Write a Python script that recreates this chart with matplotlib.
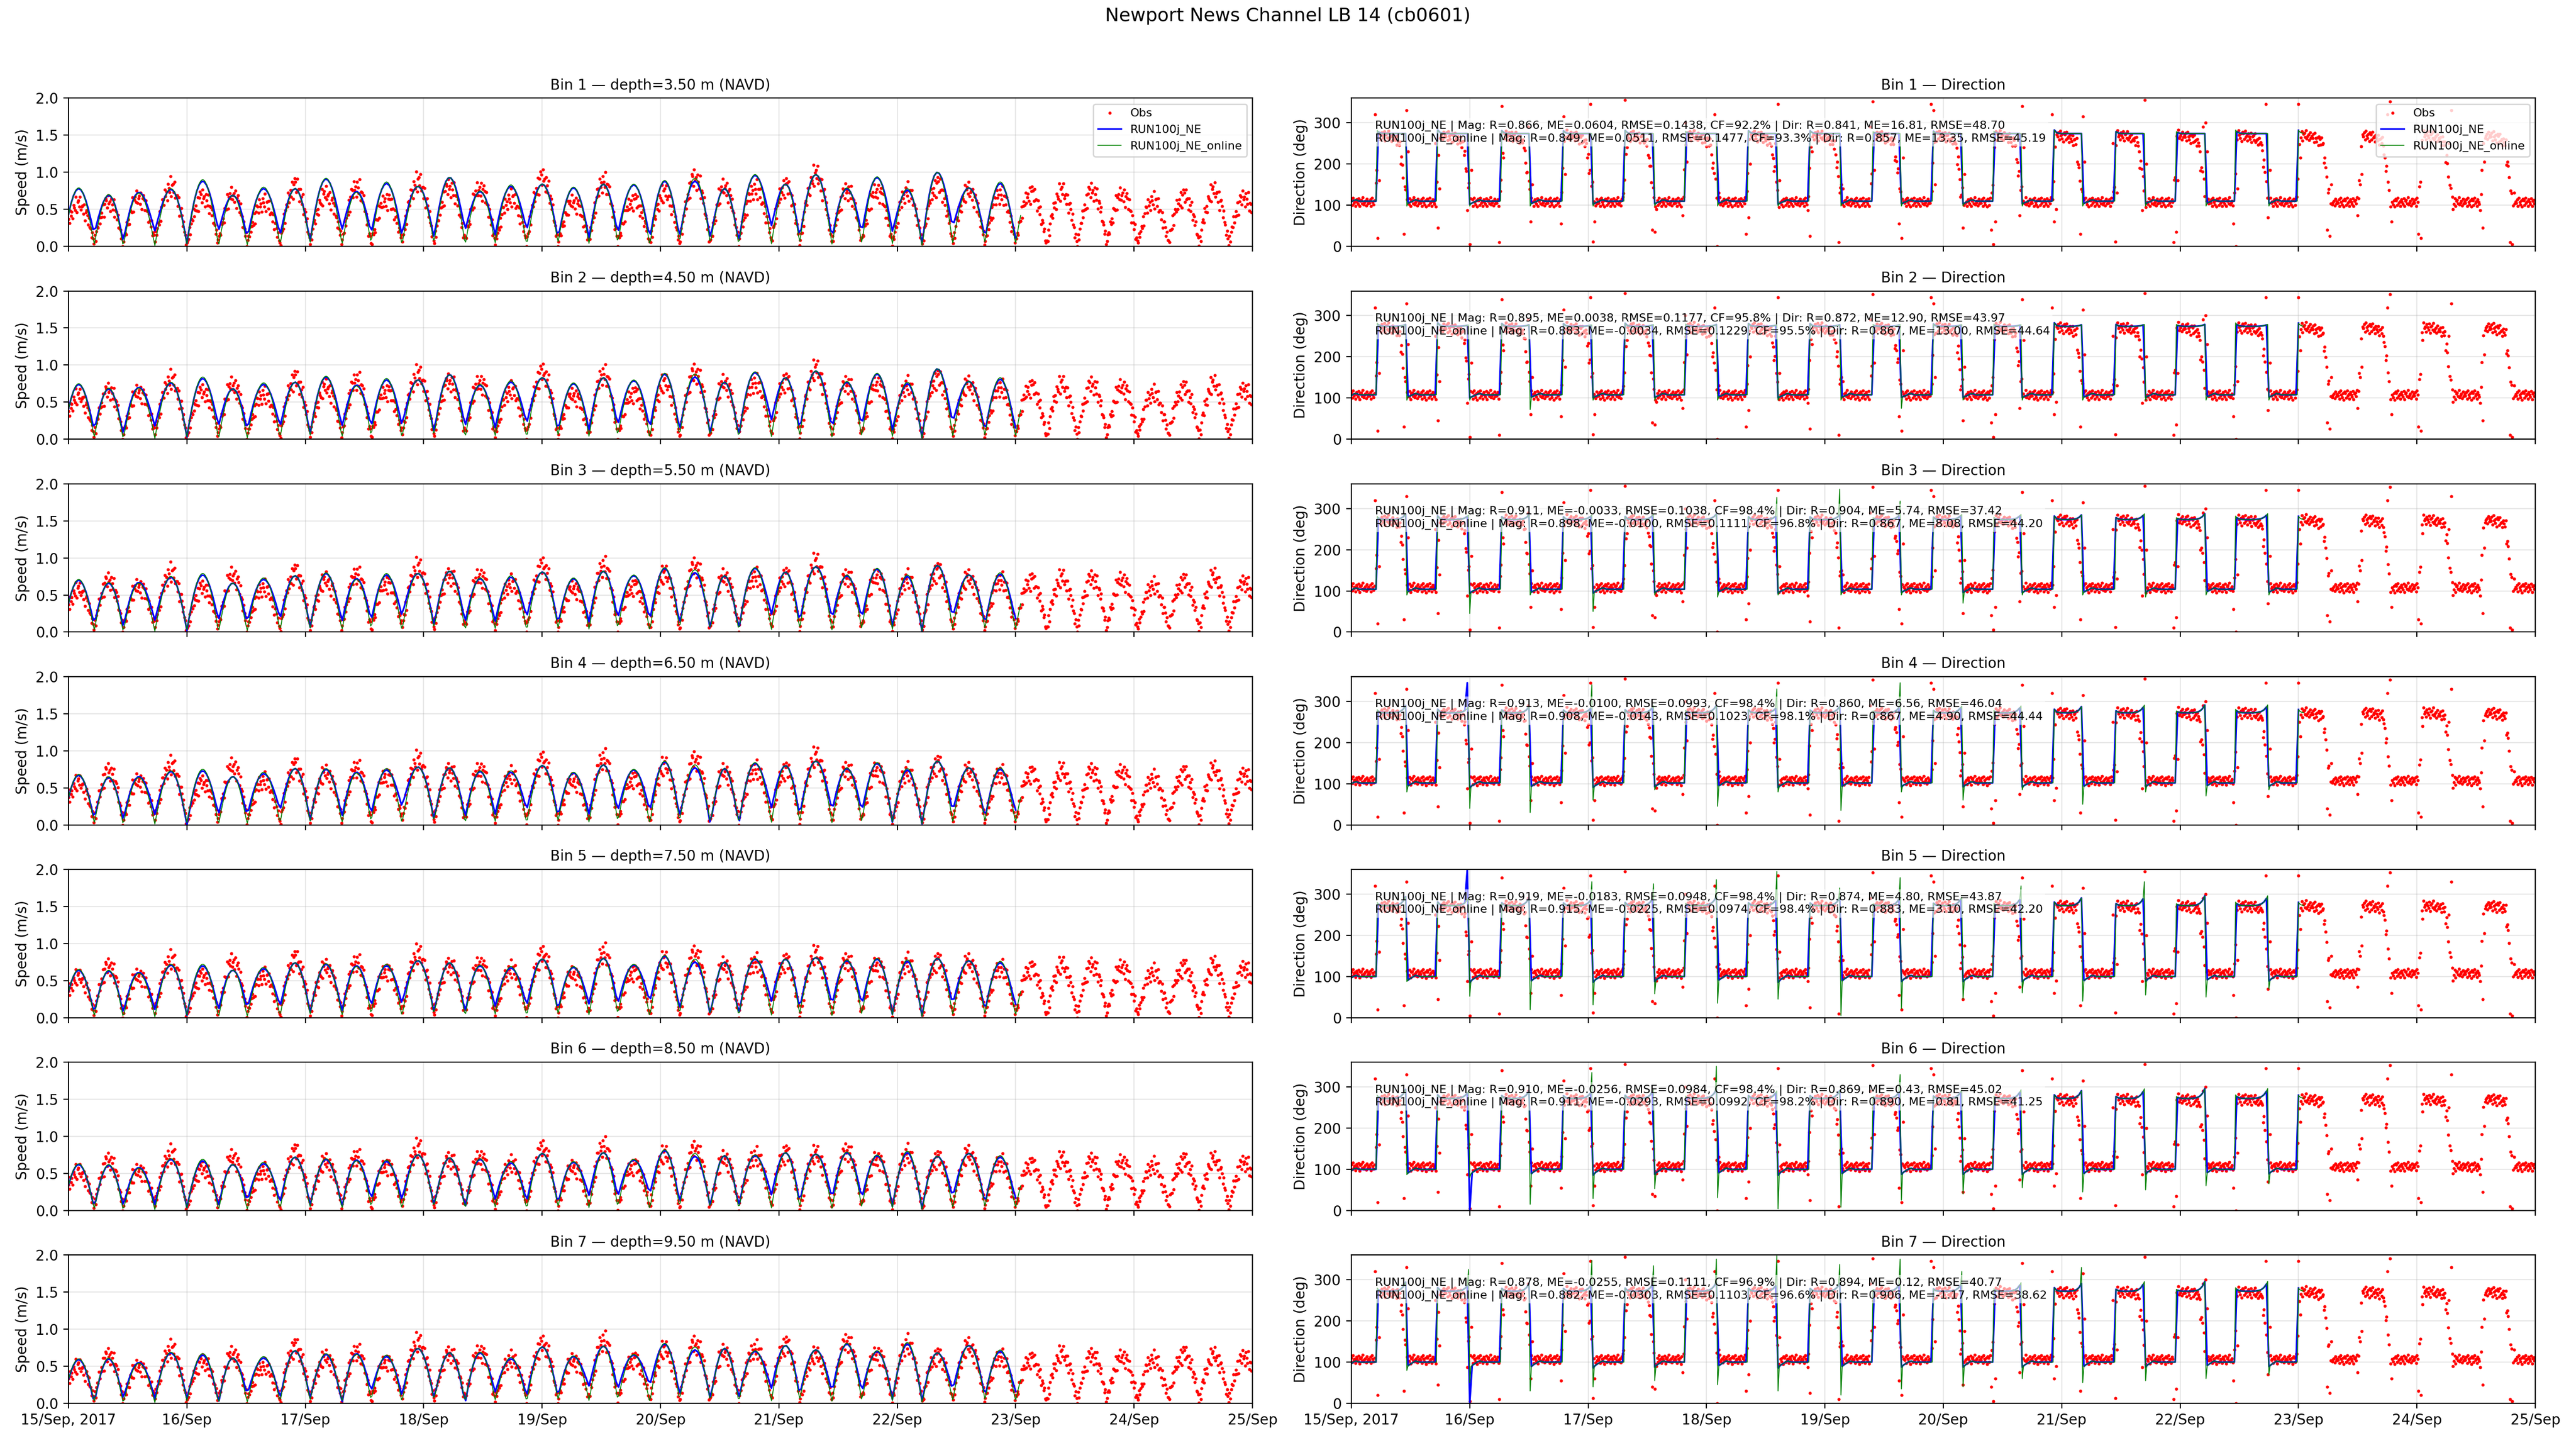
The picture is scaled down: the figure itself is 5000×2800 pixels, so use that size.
import numpy as np
import matplotlib
matplotlib.use("Agg")
import matplotlib.pyplot as plt
import matplotlib.dates as mdates
from datetime import datetime

START = mdates.date2num(datetime(2017, 9, 15))
DEPTHS = [3.5, 4.5, 5.5, 6.5, 7.5, 8.5, 9.5]
DAY_LABELS = ["15/Sep, 2017", "16/Sep", "17/Sep", "18/Sep", "19/Sep", "20/Sep",
              "21/Sep", "22/Sep", "23/Sep", "24/Sep", "25/Sep"]

# skill scores printed on the direction panels
# (mag R, mag ME, mag RMSE, CF %, dir R, dir ME, dir RMSE)
NE_STATS = [
    (0.866, 0.0604, 0.1438, 92.2, 0.841, 16.81, 48.70),
    (0.895, 0.0038, 0.1177, 95.8, 0.872, 12.90, 43.97),
    (0.911, -0.0033, 0.1038, 98.4, 0.904, 5.74, 37.42),
    (0.913, -0.0100, 0.0993, 98.4, 0.860, 6.56, 46.04),
    (0.919, -0.0183, 0.0948, 98.4, 0.874, 4.80, 43.87),
    (0.910, -0.0256, 0.0984, 98.4, 0.869, 0.43, 45.02),
    (0.878, -0.0255, 0.1111, 96.9, 0.894, 0.12, 40.77),
]
ONLINE_STATS = [
    (0.849, 0.0511, 0.1477, 93.3, 0.857, 13.35, 45.19),
    (0.883, -0.0034, 0.1229, 95.5, 0.867, 13.00, 44.64),
    (0.898, -0.0100, 0.1111, 96.8, 0.867, 8.08, 44.20),
    (0.908, -0.0143, 0.1023, 98.1, 0.867, 4.90, 44.44),
    (0.915, -0.0225, 0.0974, 98.4, 0.883, 3.10, 42.20),
    (0.911, -0.0293, 0.0992, 98.2, 0.890, 0.81, 41.25),
    (0.882, -0.0303, 0.1103, 96.6, 0.906, -1.17, 38.62),
]

# slack-water times (days after 15 Sep 00:00); odd index = ebb->flood
SLACK = [-0.045, 0.217, 0.462, 0.729, 1.000, 1.267, 1.509, 1.787, 2.040, 2.310,
         2.556, 2.816, 3.087, 3.350, 3.603, 3.870, 4.134, 4.397, 4.639, 4.910,
         5.161, 5.421, 5.661, 5.937, 6.175, 6.449, 6.700, 6.959, 7.210, 7.468,
         7.741, 7.998, 8.260, 8.520, 8.770, 9.030, 9.290, 9.550, 9.800, 10.060]

# model peak speed per half tide (RUN100j_NE), one row per bin
NE_PEAK = [
    [0.78, 0.69, 0.73, 0.77, 0.88, 0.69, 0.78, 0.78, 0.91, 0.74, 0.85, 0.81, 0.93, 0.74, 0.81, 0.84,
     0.79, 0.84, 0.83, 0.88, 0.88, 0.78, 0.96, 0.84, 0.97, 0.78, 0.93, 0.76, 1.00, 0.79, 0.85, 0.80],
    [0.74, 0.68, 0.70, 0.76, 0.82, 0.68, 0.74, 0.77, 0.84, 0.73, 0.80, 0.80, 0.87, 0.73, 0.77, 0.83,
     0.75, 0.83, 0.79, 0.88, 0.84, 0.77, 0.90, 0.83, 0.92, 0.77, 0.88, 0.75, 0.95, 0.78, 0.81, 0.76],
    [0.70, 0.66, 0.67, 0.74, 0.77, 0.66, 0.71, 0.76, 0.79, 0.72, 0.77, 0.79, 0.82, 0.72, 0.74, 0.81,
     0.72, 0.82, 0.76, 0.86, 0.80, 0.76, 0.86, 0.81, 0.88, 0.76, 0.85, 0.75, 0.90, 0.77, 0.78, 0.73],
    [0.67, 0.64, 0.65, 0.72, 0.73, 0.65, 0.69, 0.76, 0.75, 0.71, 0.74, 0.78, 0.77, 0.72, 0.71, 0.80,
     0.70, 0.81, 0.74, 0.85, 0.77, 0.76, 0.83, 0.80, 0.86, 0.76, 0.83, 0.74, 0.86, 0.77, 0.75, 0.70],
    [0.64, 0.63, 0.61, 0.71, 0.70, 0.64, 0.66, 0.74, 0.72, 0.70, 0.70, 0.77, 0.74, 0.70, 0.67, 0.79,
     0.68, 0.80, 0.71, 0.83, 0.75, 0.75, 0.79, 0.79, 0.81, 0.77, 0.79, 0.76, 0.80, 0.77, 0.74, 0.67],
    [0.62, 0.61, 0.58, 0.69, 0.67, 0.62, 0.63, 0.72, 0.69, 0.68, 0.66, 0.75, 0.71, 0.69, 0.64, 0.77,
     0.65, 0.78, 0.68, 0.81, 0.73, 0.74, 0.74, 0.78, 0.76, 0.78, 0.74, 0.78, 0.73, 0.77, 0.72, 0.63],
    [0.59, 0.60, 0.55, 0.68, 0.65, 0.61, 0.61, 0.71, 0.66, 0.67, 0.63, 0.74, 0.68, 0.68, 0.60, 0.76,
     0.63, 0.77, 0.65, 0.80, 0.72, 0.74, 0.70, 0.78, 0.72, 0.80, 0.70, 0.80, 0.68, 0.78, 0.70, 0.60],
]
# model speed at each slack
NE_TROUGH = [
    [0.05, 0.17, 0.06, 0.21, 0.04, 0.21, 0.11, 0.15, 0.06, 0.22, 0.17, 0.15, 0.11, 0.22, 0.15, 0.22, 0.10,
     0.11, 0.17, 0.10, 0.11, 0.10, 0.04, 0.28, 0.10, 0.10, 0.18, 0.20, 0.02, 0.26, 0.10, 0.10, 0.10],
    [0.05, 0.12, 0.06, 0.18, 0.03, 0.18, 0.12, 0.17, 0.06, 0.17, 0.16, 0.19, 0.09, 0.17, 0.15, 0.21, 0.10,
     0.12, 0.18, 0.14, 0.11, 0.06, 0.03, 0.26, 0.11, 0.14, 0.18, 0.12, 0.01, 0.22, 0.09, 0.14, 0.10],
    [0.05, 0.10, 0.06, 0.16, 0.02, 0.16, 0.12, 0.18, 0.05, 0.14, 0.15, 0.22, 0.08, 0.13, 0.14, 0.20, 0.10,
     0.13, 0.18, 0.16, 0.10, 0.03, 0.02, 0.24, 0.12, 0.17, 0.18, 0.07, 0.00, 0.20, 0.09, 0.17, 0.10],
    [0.05, 0.07, 0.06, 0.14, 0.00, 0.14, 0.12, 0.20, 0.05, 0.11, 0.14, 0.25, 0.06, 0.10, 0.14, 0.20, 0.10,
     0.14, 0.18, 0.18, 0.10, 0.00, 0.00, 0.23, 0.12, 0.19, 0.18, 0.03, 0.00, 0.18, 0.08, 0.19, 0.10],
    [0.05, 0.05, 0.06, 0.11, 0.03, 0.10, 0.12, 0.15, 0.06, 0.08, 0.15, 0.19, 0.06, 0.07, 0.15, 0.16, 0.09,
     0.18, 0.18, 0.21, 0.10, 0.03, 0.03, 0.22, 0.11, 0.17, 0.17, 0.04, 0.01, 0.18, 0.08, 0.17, 0.10],
    [0.05, 0.03, 0.06, 0.08, 0.04, 0.05, 0.12, 0.10, 0.06, 0.04, 0.15, 0.14, 0.06, 0.03, 0.15, 0.12, 0.08,
     0.20, 0.18, 0.22, 0.10, 0.04, 0.04, 0.21, 0.10, 0.16, 0.16, 0.05, 0.01, 0.18, 0.08, 0.16, 0.10],
    [0.05, 0.00, 0.06, 0.06, 0.06, 0.00, 0.12, 0.06, 0.06, 0.00, 0.16, 0.10, 0.06, 0.00, 0.15, 0.09, 0.08,
     0.23, 0.18, 0.24, 0.10, 0.05, 0.05, 0.20, 0.10, 0.15, 0.15, 0.05, 0.02, 0.18, 0.08, 0.15, 0.10],
]
ONLINE_PEAK_DIFF = [0.01, 0.01, -0.01, 0.01, 0.02, 0.0, 0.02, 0.0, 0.01, -0.01, 0.02, 0.0, 0.0, 0.01, 0.02, 0.0,
                    0.01, 0.0, 0.01, 0.01, 0.04, 0.0, 0.01, 0.0, 0.0, 0.01, 0.01, 0.02, 0.0, 0.0, 0.02, 0.0]
ONLINE_TROUGH = [0.03, 0.02, 0.00, 0.01, 0.03, 0.00, 0.01, 0.02, 0.04, 0.02, 0.05, 0.02, 0.05, 0.02, 0.04, 0.02, 0.05,
                 0.03, 0.05, 0.01, 0.05, 0.03, 0.02, 0.03, 0.05, 0.02, 0.04, 0.03, 0.00, 0.04, 0.05, 0.03, 0.05]

# observed peak speed per half tide (centre of the scatter)
OBS_PEAK = [
    [0.57, 0.60, 0.66, 0.80, 0.67, 0.70, 0.59, 0.82, 0.70, 0.80, 0.63, 0.87, 0.80, 0.78, 0.65, 0.92, 0.60, 0.87, 0.62, 0.72,
     0.92, 0.80, 0.77, 0.82, 0.96, 0.75, 0.75, 0.74, 0.83, 0.75, 0.70, 0.72, 0.74, 0.75, 0.70, 0.62, 0.68, 0.75, 0.66],
    [0.58, 0.66, 0.64, 0.80, 0.64, 0.74, 0.60, 0.82, 0.70, 0.80, 0.65, 0.87, 0.78, 0.77, 0.66, 0.90, 0.60, 0.88, 0.62, 0.76,
     0.90, 0.77, 0.76, 0.79, 0.94, 0.75, 0.75, 0.73, 0.83, 0.74, 0.70, 0.71, 0.74, 0.74, 0.71, 0.62, 0.69, 0.75, 0.67],
    [0.57, 0.70, 0.62, 0.80, 0.60, 0.77, 0.60, 0.81, 0.70, 0.78, 0.66, 0.87, 0.76, 0.76, 0.66, 0.89, 0.60, 0.89, 0.62, 0.78,
     0.89, 0.75, 0.75, 0.77, 0.93, 0.75, 0.75, 0.72, 0.83, 0.73, 0.70, 0.70, 0.73, 0.73, 0.71, 0.63, 0.69, 0.75, 0.67],
    [0.57, 0.73, 0.60, 0.80, 0.57, 0.80, 0.60, 0.80, 0.70, 0.77, 0.67, 0.87, 0.73, 0.75, 0.67, 0.87, 0.60, 0.90, 0.63, 0.80,
     0.88, 0.73, 0.75, 0.75, 0.92, 0.75, 0.75, 0.72, 0.83, 0.73, 0.70, 0.70, 0.73, 0.73, 0.72, 0.63, 0.70, 0.75, 0.68],
    [0.55, 0.70, 0.57, 0.78, 0.57, 0.76, 0.57, 0.80, 0.68, 0.75, 0.64, 0.86, 0.71, 0.73, 0.65, 0.85, 0.60, 0.88, 0.62, 0.78,
     0.86, 0.72, 0.75, 0.77, 0.85, 0.77, 0.72, 0.75, 0.77, 0.75, 0.68, 0.67, 0.71, 0.71, 0.69, 0.62, 0.69, 0.72, 0.67],
    [0.53, 0.68, 0.54, 0.76, 0.57, 0.72, 0.54, 0.79, 0.66, 0.73, 0.61, 0.84, 0.69, 0.72, 0.63, 0.83, 0.59, 0.87, 0.61, 0.76,
     0.83, 0.71, 0.74, 0.78, 0.76, 0.80, 0.70, 0.77, 0.71, 0.76, 0.66, 0.63, 0.69, 0.68, 0.66, 0.61, 0.68, 0.69, 0.65],
    [0.50, 0.65, 0.50, 0.73, 0.57, 0.67, 0.50, 0.77, 0.62, 0.70, 0.57, 0.82, 0.67, 0.70, 0.60, 0.80, 0.58, 0.85, 0.60, 0.73,
     0.80, 0.70, 0.73, 0.80, 0.65, 0.83, 0.67, 0.80, 0.65, 0.77, 0.63, 0.60, 0.67, 0.65, 0.63, 0.60, 0.67, 0.65, 0.63],
]
OBS_TROUGH = [0.10, 0.05, 0.03, 0.08, 0.02, 0.06, 0.04, 0.03, 0.06, 0.05, 0.02, 0.07, 0.04, 0.06, 0.03, 0.05, 0.02, 0.06, 0.04, 0.05,
              0.03, 0.02, 0.04, 0.08, 0.03, 0.05, 0.06, 0.02, 0.03, 0.06, 0.04, 0.05, 0.03, 0.02, 0.05, 0.03, 0.06, 0.04, 0.03, 0.05]
SPEED_SCATTER = [0.4, -0.7, 0.9, -0.2, 0.1, -1.1, 0.6, 0.0, -0.5, 1.2, -1.0, 0.3,
                 0.5, -0.3, 1.0, -0.6, -0.1, 0.2, -0.8, 0.7, -1.3, 0.2, 0.8]

# direction levels per bin (deg)
FLOOD_DIR = [274, 274, 273, 272, 272, 272, 272]
EBB_DIR = [110, 108, 104, 102, 100, 100, 100]
EBB_DIP = [8, 8, 10, 12, 15, 15, 15]
FLOOD_HOOK = [0, 5, 15, 20, 25, 25, 25]
OBS_FLOOD = [270, 272, 273, 273, 272, 271, 271]
OBS_FLOOD_DROP = [40, 30, 24, 20, 16, 16, 16]
OBS_EBB = [108, 108, 108, 108, 108, 107, 107]
# online model overshoot at each flood->ebb turn (slack 2, 4, ... 30)
GREEN_UP = [
    [0] * 15,
    [0] * 15,
    [0, 0, 0, 0, 0, 0, 327, 347, 318, 0, 0, 0, 0, 0, 0],
    [0, 0, 0, 340, 0, 0, 330, 0, 345, 0, 0, 0, 0, 0, 0],
    [0, 0, 0, 330, 325, 335, 355, 315, 340, 0, 320, 0, 330, 0, 0],
    [0, 0, 0, 335, 0, 350, 0, 0, 330, 0, 0, 0, 0, 0, 0],
    [0, 325, 0, 347, 334, 350, 358, 337, 350, 320, 0, 330, 0, 0, 0],
]
GREEN_DOWN = [
    [98] * 15,
    [95, 95, 72, 95, 95, 95, 95, 95, 75, 95, 95, 95, 95, 95, 95],
    [90, 45, 90, 50, 90, 85, 90, 90, 90, 70, 90, 90, 85, 90, 90],
    [80, 40, 30, 60, 85, 45, 80, 35, 80, 60, 85, 50, 80, 70, 85],
    [89, 52, 19, 31, 58, 35, 45, 5, 22, 45, 60, 40, 55, 50, 70],
    [87, 80, 15, 29, 53, 31, 4, 8, 25, 40, 55, 45, 50, 60, 65],
    [80, 50, 30, 40, 55, 45, 30, 20, 35, 40, 60, 50, 55, 60, 70],
]
BLUE_SPIKE_SLACK = [0, 0, 0, 4, 4, 4, 4]
BLUE_SPIKE_VAL = [0, 0, 0, 345, 360, 0, 0]
DIR_SCATTER = [3, -6, 8, -2, 1, -8, 5, 0, -4, 7, -9, 2, 4, -3, 9,
               -5, -1, 2, -7, 6, -3, 1, -2, 5, -8, 8, 0, -5, 3, -10, 6]
DIR_OUTLIER_A = [352, 20, 330, 45, 5, 340, 60, 315, 12, 355, 35, 300, 0, 70, 345, 25, 150]
DIR_OUTLIER_B = [200, 160, 230, 140, 185, 215, 150, 175, 60, 240, 90, 205, 130]
DIR_OUTLIER_C = [75, 320, 30, 250, 88, 10, 290, 55, 345, 120, 40]


def speed_curve(t, peaks, troughs):
    out = np.full(t.shape, np.nan)
    for j, p in enumerate(peaks):
        a, b = SLACK[j], SLACK[j + 1]
        m = (t >= a) & (t < b)
        x = (t[m] - a) / (b - a)
        base = troughs[j] + (troughs[j + 1] - troughs[j]) * x
        out[m] = base + (p - base) * np.sin(np.pi * x)
    return out


def model_direction(t, b, online):
    out = np.full(t.shape, np.nan)
    for j in range(32):
        a, e = SLACK[j], SLACK[j + 1]
        m = (t >= a) & (t < e)
        x = (t[m] - a) / (e - a)
        if j % 2:
            out[m] = FLOOD_DIR[b] + 9 * np.exp(-x / 0.06) + FLOOD_HOOK[b] * x ** 8
        else:
            out[m] = (EBB_DIR[b] - EBB_DIP[b] * np.exp(-x / 0.12)
                      + 4 * np.exp(-((x - 0.3) / 0.08) ** 2))
    for i, k in enumerate(range(2, 31, 2)):
        n = np.searchsorted(t, SLACK[k])
        if online:
            if GREEN_UP[b][i]:
                out[n - 1] = GREEN_UP[b][i]
            out[n] = min(out[n], GREEN_DOWN[b][i])
    if not online and BLUE_SPIKE_SLACK[b]:
        n = np.searchsorted(t, SLACK[BLUE_SPIKE_SLACK[b]])
        if BLUE_SPIKE_VAL[b] > 200:
            out[n - 1] = BLUE_SPIKE_VAL[b]
        else:
            out[n] = BLUE_SPIKE_VAL[b]
    return out


def obs_direction(t, b):
    out = np.full(t.shape, np.nan)
    jit = np.array(DIR_SCATTER, float)[np.arange(t.size) % len(DIR_SCATTER)]
    for j in range(39):
        a, e = SLACK[j], SLACK[j + 1]
        m = (t >= a) & (t < e)
        x = (t[m] - a) / (e - a)
        if j % 2:
            out[m] = OBS_FLOOD[b] - OBS_FLOOD_DROP[b] * x ** 3 + 1.4 * jit[m]
        else:
            out[m] = OBS_EBB[b] + 1.2 * jit[m]
    for k in range(1, 39):
        s = SLACK[k]
        hi_end = OBS_FLOOD[b] - OBS_FLOOD_DROP[b]
        if k % 2 == 0:
            w0, w1, v0, v1 = 0.05, 0.01, hi_end, OBS_EBB[b]
        else:
            w0, w1, v0, v1 = 0.015, 0.015, OBS_EBB[b], OBS_FLOOD[b]
        m = (t > s - w0) & (t < s + w1)
        frac = (t[m] - (s - w0)) / (w0 + w1)
        out[m] = v0 + (v1 - v0) * frac + 2 * jit[m]
        n = np.searchsorted(t, s)
        if n + 4 < t.size:
            out[n] = DIR_OUTLIER_A[k % len(DIR_OUTLIER_A)]
            out[n + 2] = DIR_OUTLIER_B[k % len(DIR_OUTLIER_B)]
            out[n - 3] = DIR_OUTLIER_C[k % len(DIR_OUTLIER_C)]
    return np.clip(out, 0, 360)


t_obs = np.arange(0, 10.0, 10 / 1440)
t_ne = np.arange(0, 8.01, 30 / 1440)
t_on = np.arange(0, 8.05, 15 / 1440)
scatter = np.array(SPEED_SCATTER)[np.arange(t_obs.size) % len(SPEED_SCATTER)]

fig, axes = plt.subplots(7, 2, figsize=(25, 14), sharex=True)
fig.subplots_adjust(left=0.0266, right=0.9842, top=0.932, bottom=0.0275,
                    hspace=0.30, wspace=0.0835)

for b in range(7):
    ax_s, ax_d = axes[b]
    on_peak = [p + d for p, d in zip(NE_PEAK[b], ONLINE_PEAK_DIFF)]

    obs = speed_curve(t_obs, OBS_PEAK[b], OBS_TROUGH)
    obs = np.clip(obs + scatter * (0.05 + 0.09 * obs), 0, None)
    ax_s.plot(START + t_obs, obs, 'o', color='red', ms=2.2, mew=0, label='Obs')
    ax_s.plot(START + t_ne, speed_curve(t_ne, NE_PEAK[b], NE_TROUGH[b]),
              color='blue', lw=1.2, label='RUN100j_NE')
    ax_s.plot(START + t_on, speed_curve(t_on, on_peak, ONLINE_TROUGH),
              color='green', lw=0.6, label='RUN100j_NE_online')
    ax_s.set_ylim(0, 2.0)
    ax_s.set_yticks([0.0, 0.5, 1.0, 1.5, 2.0])
    ax_s.set_ylabel('Speed (m/s)')
    ax_s.set_title(f'Bin {b + 1} \u2014 depth={DEPTHS[b]:.2f} m (NAVD)', fontsize=10)

    ax_d.plot(START + t_obs, obs_direction(t_obs, b), 'o', color='red', ms=2.2, mew=0, label='Obs')
    ax_d.plot(START + t_ne, model_direction(t_ne, b, False), color='blue', lw=1.2, label='RUN100j_NE')
    ax_d.plot(START + t_on, model_direction(t_on, b, True), color='green', lw=0.6,
              label='RUN100j_NE_online')
    ax_d.set_ylim(0, 360)
    ax_d.set_yticks([0, 100, 200, 300])
    ax_d.set_ylabel('Direction (deg)')
    ax_d.set_title(f'Bin {b + 1} \u2014 Direction', fontsize=10)

    r, me, rmse, cf, dr, dme, drmse = NE_STATS[b]
    line1 = (f'RUN100j_NE | Mag: R={r:.3f}, ME={me:.4f}, RMSE={rmse:.4f}, CF={cf:.1f}% | '
             f'Dir: R={dr:.3f}, ME={dme:.2f}, RMSE={drmse:.2f}')
    r, me, rmse, cf, dr, dme, drmse = ONLINE_STATS[b]
    line2 = (f'RUN100j_NE_online | Mag: R={r:.3f}, ME={me:.4f}, RMSE={rmse:.4f}, CF={cf:.1f}% | '
             f'Dir: R={dr:.3f}, ME={dme:.2f}, RMSE={drmse:.2f}')
    ax_d.text(0.02, 0.85, line1 + '\n' + line2, transform=ax_d.transAxes, fontsize=8,
              va='top', ha='left',
              bbox=dict(boxstyle='round,pad=0.2', facecolor='white', alpha=0.6, edgecolor='none'))

    for ax in (ax_s, ax_d):
        ax.grid(True, alpha=0.3)
        ax.set_xlim(START, START + 10)
        ax.set_xticks(START + np.arange(11))
        if b == 0:
            ax.legend(loc='upper right', fontsize=8)

axes[-1, 0].set_xticklabels(DAY_LABELS)
axes[-1, 1].set_xticklabels(DAY_LABELS)

fig.suptitle('Newport News Channel LB 14 (cb0601)', fontsize=13, y=0.995)
fig.savefig('out.png', dpi=200)
